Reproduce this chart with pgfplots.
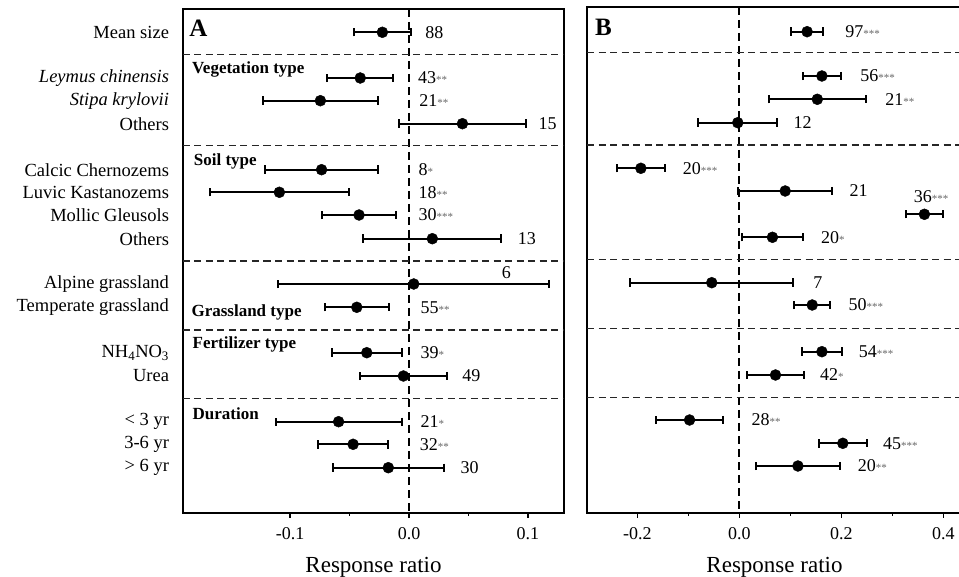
\documentclass[border=0pt]{standalone}
\usepackage{fontspec}
\setmainfont{Liberation Serif}
\usepackage{pgfplots}
\usepackage{pgfplotstable}
\pgfplotsset{compat=1.18}

% small grey significance stars
\newcommand{\st}[1]{{\fontsize{11}{11}\selectfont\color{black!60}#1}}

% y = row position, x = mean effect, e = half CI, lx/ly = label anchor
\pgfplotstableread{
y x e lx ly lab
32.3 -0.0224 0.0238 0.0136 32.3 88
78.0 -0.0410 0.0276 0.0074 78.0 43\st{**}
100.7 -0.0745 0.0484 0.0086 100.7 21\st{**}
123.7 0.0449 0.0536 0.1087 123.7 15
169.7 -0.0735 0.0476 0.0080 169.7 8\st{*}
192.3 -0.1090 0.0586 0.0080 192.3 18\st{**}
215.0 -0.0420 0.0308 0.0080 215.0 30\st{***}
238.7 0.0196 0.0580 0.0914 238.7 13
284.0 0.0040 0.1140 0.0780 273.0 6
307.3 -0.0439 0.0270 0.0096 307.3 55\st{**}
352.7 -0.0355 0.0293 0.0096 352.7 39\st{*}
376.0 -0.0047 0.0369 0.0447 376.0 49
421.7 -0.0592 0.0529 0.0096 421.7 21\st{*}
444.3 -0.0470 0.0295 0.0090 444.3 32\st{**}
467.7 -0.0174 0.0468 0.0432 467.7 30
}\tabA

\pgfplotstableread{
y x e lx ly lab
31.7 0.133 0.0320 0.2075 31.7 97\st{***}
76.0 0.162 0.0375 0.2370 76.0 56\st{***}
99.3 0.153 0.0955 0.2860 99.3 21\st{**}
122.7 -0.003 0.0775 0.1060 122.7 12
168.3 -0.193 0.0475 -0.1110 168.3 20\st{***}
191.0 0.090 0.0920 0.2160 191.0 21
214.3 0.363 0.0370 0.3420 196.7 36\st{***}
237.3 0.065 0.0590 0.1600 237.3 20\st{*}
282.7 -0.054 0.1600 0.1450 282.7 7
305.0 0.143 0.0355 0.2140 305.0 50\st{***}
351.7 0.162 0.0390 0.2340 351.7 54\st{***}
375.0 0.071 0.0560 0.1580 375.0 42\st{*}
420.0 -0.0975 0.0655 0.0240 420.0 28\st{**}
443.3 0.203 0.0470 0.2815 443.3 45\st{***}
466.0 0.115 0.0825 0.2320 466.0 20\st{**}
}\tabB

\pgfplotsset{
  forest/.style={
    scale only axis, y dir=reverse, ymax=513, clip=false,
    axis line style={line width=2pt},
    tick align=outside, xtick pos=bottom,
    ytick style={draw=none},
    xtick style={line width=1.4pt, black},
    major tick length=4.5pt, minor tick length=2.5pt,
    minor x tick num=1,
    x tick label style={font=\fontsize{18}{20}\selectfont, yshift=-6pt,
      /pgf/number format/.cd, fixed, fixed zerofill, precision=1, assume math mode=true},
    xlabel={Response ratio},
    xlabel style={font=\fontsize{23}{26}\selectfont, yshift=-11pt},
  },
  pts/.style={only marks, mark=*, mark size=5.5pt, black,
    error bars/.cd, x dir=both, x explicit, error mark=|,
    error bar style={line width=2pt, black},
    error mark options={mark size=4.2pt, line width=2pt, black}},
  labs/.style={draw=none, mark=none, point meta=explicit symbolic,
    nodes near coords={\pgfplotspointmeta},
    nodes near coords align={anchor=west},
    every node near coord/.append style={inner sep=0pt, font=\fontsize{18}{20}\selectfont}},
  sep/.style={black!85, line width=1.4pt, dash pattern=on 7pt off 4.5pt},
  zero/.style={black, line width=1.8pt, dash pattern=on 8pt off 5pt},
}
\tikzset{
  grp/.style={anchor=west, inner sep=0pt, font=\bfseries\fontsize{17}{19}\selectfont},
  pnl/.style={anchor=west, inner sep=0pt, font=\bfseries\fontsize{25}{25}\selectfont},
}

\begin{document}
\begin{tikzpicture}
\begin{axis}[forest,
  at={(183pt,64pt)}, anchor=south west,
  width=381pt, height=504pt, ymin=9,
  xmin=-0.19, xmax=0.1303,
  xtick={-0.1,0,0.1},
  ytick={32.3,78,100.7,123.7,169.7,192.3,215,238.7,284,307.3,352.7,376,421.7,444.3,467.7},
  yticklabels={Mean size, \textit{Leymus chinensis}, \textit{Stipa krylovii}, Others,
    Calcic Chernozems, Luvic Kastanozems, Mollic Gleusols, Others,
    Alpine grassland, Temperate grassland, NH\textsubscript{4}NO\textsubscript{3}, Urea,
    {< 3 yr}, {3-6 yr}, {> 6 yr}},
  y tick label style={font=\fontsize{18.5}{20}\selectfont, xshift=-6pt},
]
\addplot[zero] coordinates {(0,9) (0,513)};
\addplot[sep] coordinates {(-0.19,54.3) (0.1303,54.3)};
\addplot[sep] coordinates {(-0.19,145.7) (0.1303,145.7)};
\addplot[sep] coordinates {(-0.19,261) (0.1303,261)};
\addplot[sep] coordinates {(-0.19,330) (0.1303,330)};
\addplot[sep] coordinates {(-0.19,398.3) (0.1303,398.3)};
\addplot[pts] table[x=x, y=y, x error=e] {\tabA};
\addplot[labs] table[x=lx, y=ly, meta=lab] {\tabA};
\node[grp] at (axis cs:-0.1824,69.3) {Vegetation type};
\node[grp] at (axis cs:-0.181,161) {Soil type};
\node[grp] at (axis cs:-0.183,312.3) {Grassland type};
\node[grp] at (axis cs:-0.182,344) {Fertilizer type};
\node[grp] at (axis cs:-0.182,413.3) {Duration};
\node[pnl] at (axis cs:-0.1849,28) {A};
\end{axis}

\begin{axis}[forest,
  at={(587pt,64pt)}, anchor=south west,
  width=375pt, height=506pt, ymin=7,
  xmin=-0.2986, xmax=0.4367,
  xtick={-0.2,0,0.2,0.4},
  ytick=\empty,
]
\addplot[zero] coordinates {(0,7) (0,513)};
\addplot[sep] coordinates {(-0.2986,52.7) (0.4367,52.7)};
\addplot[sep] coordinates {(-0.2986,145) (0.4367,145)};
\addplot[sep] coordinates {(-0.2986,259.3) (0.4367,259.3)};
\addplot[sep] coordinates {(-0.2986,328.3) (0.4367,328.3)};
\addplot[sep] coordinates {(-0.2986,397.3) (0.4367,397.3)};
\addplot[pts] table[x=x, y=y, x error=e] {\tabB};
\addplot[labs] table[x=lx, y=ly, meta=lab] {\tabB};
\node[pnl] at (axis cs:-0.283,27) {B};
\end{axis}
\pgfresetboundingbox
\useasboundingbox (0,0) rectangle (959pt,577pt);
\end{tikzpicture}
\end{document}
